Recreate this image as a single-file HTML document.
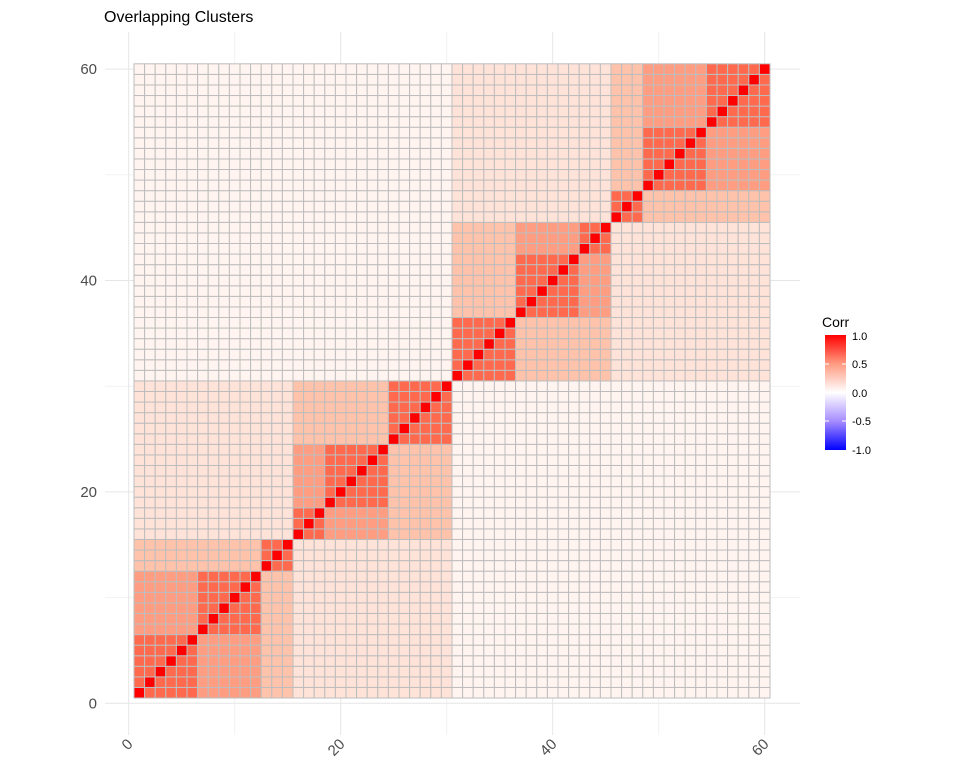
<!DOCTYPE html>
<html><head><meta charset="utf-8"><style>
body{margin:0;background:#fff;font-family:"Liberation Sans",sans-serif}
</style></head><body>
<svg id="c" width="960" height="768" xmlns="http://www.w3.org/2000/svg">
<text x="104" y="22" font-size="16" fill="#000">Overlapping Clusters</text>
<g id="grid"></g><g id="tiles"></g><g id="axes"></g>
<defs><linearGradient id="lg" x1="0" y1="1" x2="0" y2="0">
<stop offset="0" stop-color="#0000ff"/><stop offset="0.25" stop-color="#a68cff"/><stop offset="0.5" stop-color="#ffffff"/><stop offset="0.75" stop-color="#ff9a80"/><stop offset="1" stop-color="#ff0000"/></linearGradient></defs>
<g>
<text x="822" y="327" font-size="14">Corr</text>
<rect x="825" y="335" width="21" height="115" fill="url(#lg)"/>
<g stroke="#fff" stroke-width="1"><line x1="825" y1="364" x2="829" y2="364"/><line x1="842" y1="364" x2="846" y2="364"/><line x1="825" y1="421" x2="829" y2="421"/><line x1="842" y1="421" x2="846" y2="421"/></g>
<g font-size="11" fill="#000"><text x="852" y="340">1.0</text><text x="852" y="368">0.5</text><text x="852" y="397">0.0</text><text x="852" y="425">-0.5</text><text x="852" y="454">-1.0</text></g>
</g>
</svg>
<script>
// cluster assignments (level1 group, level2 subgroup, level3 subcluster, level4 block)
const groups=[[1,30],[31,60]];
const subgroups=[[1,15],[16,30],[31,45],[46,60]];
const subclusters=[[1,12],[13,15],[16,24],[25,30],[31,36],[37,45],[46,48],[49,60]];
const blocks=[[1,6],[7,12],[13,15],[16,18],[19,24],[25,30],[31,36],[37,42],[43,45],[46,48],[49,54],[55,60]];
const levelCorr=[0.05,0.15,0.3,0.45,0.7,1.0];
const ticks=[0,20,40,60];
const N=60;
const NS="http://www.w3.org/2000/svg";
function px(v){return 128.7+v*10.6;}
function py(v){return 703.3-v*10.57;}
function same(list,i,j){return list.some(r=>i>=r[0]&&i<=r[1]&&j>=r[0]&&j<=r[1]);}
function corr(i,j){
 if(i===j)return levelCorr[5];
 if(same(blocks,i,j))return levelCorr[4];
 if(same(subclusters,i,j))return levelCorr[3];
 if(same(subgroups,i,j))return levelCorr[2];
 if(same(groups,i,j))return levelCorr[1];
 return levelCorr[0];
}
const stops=[[0,[255,255,255]],[0.05,[255,244,240]],[0.15,[255,226,216]],[0.3,[255,194,171]],[0.45,[255,157,130]],[0.7,[255,106,79]],[1,[255,0,0]]];
function color(v){
 for(let k=1;k<stops.length;k++){if(v<=stops[k][0]){const a=stops[k-1],b=stops[k];const t=(v-a[0])/(b[0]-a[0]);
 const c=a[1].map((x,n)=>Math.round(x+(b[1][n]-x)*t));return `rgb(${c})`;}}
 return 'rgb(255,0,0)';
}
function el(t,a,p){const e=document.createElementNS(NS,t);for(const k in a)e.setAttribute(k,a[k]);p.appendChild(e);return e;}
const grid=document.getElementById('grid');
[10,30,50].forEach(v=>{el('line',{x1:px(v),x2:px(v),y1:32,y2:735,stroke:'#f2f2f2'},grid);el('line',{x1:105,x2:800,y1:py(v),y2:py(v),stroke:'#f2f2f2'},grid);});
ticks.forEach(v=>{el('line',{x1:px(v),x2:px(v),y1:32,y2:735,stroke:'#e6e6e6'},grid);el('line',{x1:105,x2:800,y1:py(v),y2:py(v),stroke:'#e6e6e6'},grid);});
const tg=document.getElementById('tiles');
for(let i=1;i<=N;i++)for(let j=1;j<=N;j++){
 const r=el('rect',{x:px(i-0.5),y:py(j+0.5),width:10.6,height:10.57,fill:color(corr(i,j)),stroke:'#bdbdbd','stroke-width':1},tg);
 
 
}
const ax=document.getElementById('axes');
ticks.forEach(v=>{
 const t=el('text',{x:97,y:py(v)+5,'font-size':15,fill:'#4d4d4d','text-anchor':'end'},ax);t.textContent=v;
 
 
 const x=px(v);
 const u=el('text',{x:x+5,y:745,'font-size':15,fill:'#4d4d4d','text-anchor':'end',transform:`rotate(-45 ${x+5} 745)`},ax);u.textContent=v;
 
 
});
</script>
</body></html>
